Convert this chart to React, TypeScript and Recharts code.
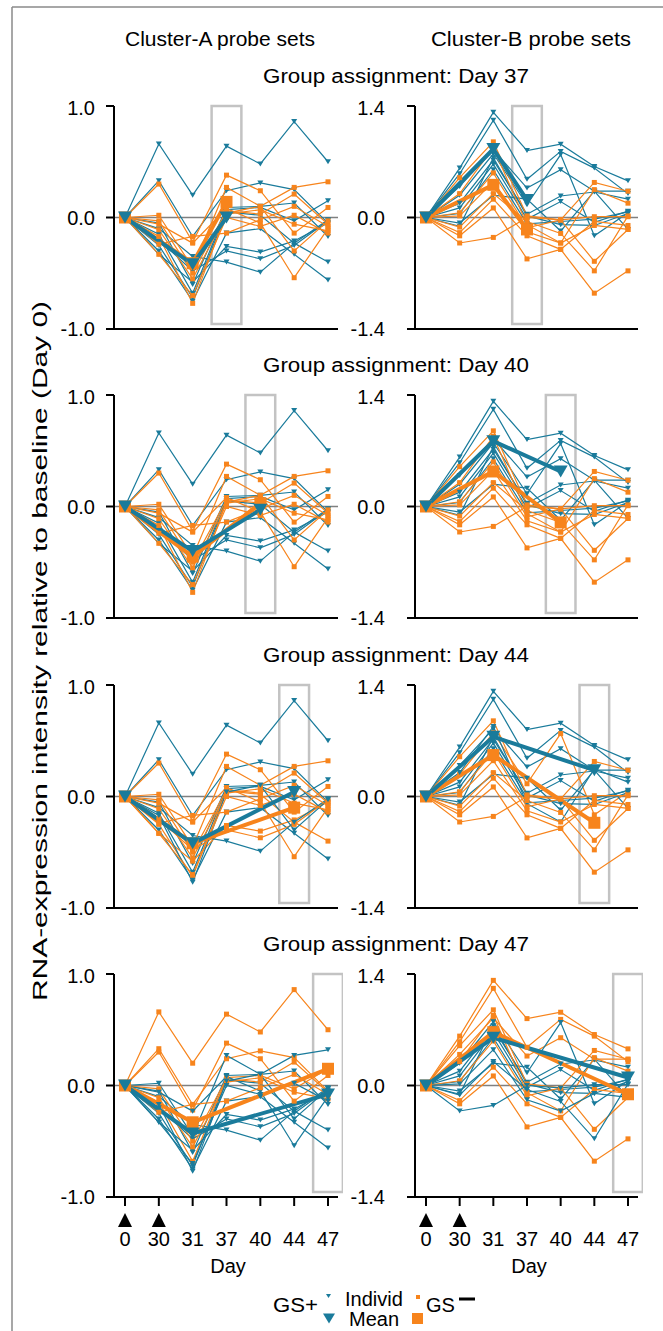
import { LineChart, Line, XAxis, YAxis, ReferenceLine, ReferenceArea } from 'recharts';

const DAYS = ['0', '30', '31', '37', '40', '44', '47'];
const ASSIGN_DAYS = ['37', '40', '44', '47'];
const ARROW_DAYS = ['0', '30'];

// individual probe sets, one row per probe set, values at DAYS
const CLUSTER_A = [
  [0, 0.66, 0.2, 0.64, 0.48, 0.86, 0.5],
  [0, 0.33, -0.17, 0.24, 0.31, 0.25, -0.05],
  [0, -0.05, -0.6, 0.09, 0.1, 0.13, -0.17],
  [0, -0.15, -0.68, 0.07, 0.09, -0.03, 0.15],
  [0, -0.25, -0.72, 0.05, 0.02, -0.23, -0.4],
  [0, -0.3, -0.75, -0.14, -0.1, -0.33, -0.56],
  [0, -0.33, -0.58, -0.26, -0.31, -0.21, -0.05],
  [0, -0.2, -0.48, -0.3, -0.37, -0.25, -0.03],
  [0, -0.1, -0.35, -0.4, -0.49, -0.23, -0.02],
  [0, 0.3, -0.22, 0.38, 0.24, -0.14, 0.09],
  [0, 0.02, -0.45, 0.27, 0.1, 0.27, 0.32],
  [0, -0.03, -0.5, 0.06, 0.03, 0.21, -0.06],
  [0, -0.06, -0.23, 0.08, -0.05, -0.54, -0.1],
  [0, -0.11, -0.55, 0.03, 0.07, -0.06, -0.12],
  [0, -0.17, -0.77, 0.04, 0.1, -0.3, -0.03],
  [0, -0.24, -0.17, -0.14, -0.02, 0.1, -0.08],
  [0, -0.33, -0.7, 0.0, -0.08, 0.02, -0.14],
];

const CLUSTER_B = [
  [0, 0.62, 1.32, 0.84, 0.92, 0.64, 0.46],
  [0, 0.55, 1.22, 0.48, 0.83, 0.62, 0.3],
  [0, 0.39, 0.85, 0.37, 0.6, 0.33, 0.33],
  [0, 0.28, 0.8, 0.16, 0.79, -0.23, 0.06],
  [0, 0.18, 0.72, 0.04, 0.27, 0.32, 0.23],
  [0, 0.12, 0.67, -0.02, 0.2, -0.06, 0.08],
  [0, -0.07, 0.28, 0.23, -0.17, 0.33, -0.15],
  [0, -0.11, 0.75, 0.02, -0.09, -0.1, 0.05],
  [0, 0.05, 0.6, -0.08, -0.05, -0.02, 0.07],
  [0, 0.5, 0.95, 0.02, -0.03, 0.44, 0.33],
  [0, 0.3, 0.88, -0.09, -0.32, 0.35, 0.18],
  [0, 0.06, 0.56, -0.13, -0.03, -0.55, -0.15],
  [0, -0.19, 0.23, -0.23, -0.4, -0.95, -0.67],
  [0, -0.23, 0.12, -0.52, -0.4, -0.05, -0.1],
  [0, -0.32, -0.25, 0.0, -0.03, 0.01, 0.01],
  [0, -0.12, 0.3, -0.05, -0.2, -0.67, 0.02],
  [0, 0.02, 0.45, -0.18, -0.32, -0.1, -0.15],
];

// GS+ / GS- membership of each probe set, one string per assignment day
const GROUPS_A = [
  '+++++++++--------',
  '+++++++++--------',
  '++++-+--+-----+--',
  '--+-+++++-+-+-+-+',
];
const GROUPS_B = [
  '+++++++++--------',
  '+++++++++--------',
  '+++-+++++-+------',
  '---++++++-----+++',
];

// group means at day 0, day 31 and the assignment day
const MEAN_A_POS = [[0, -0.42, 0.0], [0, -0.4, -0.03], [0, -0.42, 0.04], [0, -0.43, -0.08]];
const MEAN_A_NEG = [[0, -0.41, 0.14], [0, -0.45, 0.03], [0, -0.42, -0.1], [0, -0.33, 0.15]];
const MEAN_B_POS = [[0, 0.86, 0.22], [0, 0.82, 0.44], [0, 0.75, 0.33], [0, 0.6, 0.1]];
const MEAN_B_NEG = [[0, 0.41, -0.15], [0, 0.44, -0.2], [0, 0.52, -0.33], [0, 0.67, -0.11]];

const FONT = '"Liberation Sans", Arial, Helvetica, sans-serif';
const BLUE = '#1a7b9b';
const ORANGE = '#f7841c';
const ROW_TOPS = [106, 395, 685, 974];
const PLOT_H = 223;

const tri = (cx: number, cy: number, w: number, h: number) =>
  `M${cx - w / 2},${cy - h / 2}L${cx + w / 2},${cy - h / 2}L${cx},${cy + h / 2}Z`;

const makeTri = (w: number, h: number) => (p: any) => {
  if (p.cx == null || p.cy == null || p.value == null) return <g key={'t' + p.index} />;
  return <path key={'t' + p.index} d={tri(p.cx, p.cy, w, h)} fill={BLUE} />;
};
const makeSq = (s: number) => (p: any) => {
  if (p.cx == null || p.cy == null || p.value == null) return <g key={'s' + p.index} />;
  return <rect key={'s' + p.index} x={p.cx - s / 2} y={p.cy - s / 2} width={s} height={s} fill={ORANGE} />;
};

const smallTri = makeTri(6, 5);
const bigTri = makeTri(14, 12);
const smallSq = makeSq(5);
const bigSq = makeSq(12);

const renderDayTick = (p: any) => {
  const label = DAYS[p.payload.value];
  const x = p.x;
  const y = p.y;
  return (
    <g key={'dt' + p.payload.value}>
      {ARROW_DAYS.includes(label) && <path d={`M${x},${y + 5}L${x + 7},${y + 19}L${x - 7},${y + 19}Z`} fill="#000" />}
      <text x={x} y={y + 38} textAnchor="middle" fontSize={20} fontFamily={FONT} fill="#000">{label}</text>
    </g>
  );
};

function Panel({ cluster, row }: { cluster: 'A' | 'B'; row: number }) {
  const isA = cluster === 'A';
  const lines = isA ? CLUSTER_A : CLUSTER_B;
  const groups = (isA ? GROUPS_A : GROUPS_B)[row];
  const pos = (isA ? MEAN_A_POS : MEAN_B_POS)[row];
  const neg = (isA ? MEAN_A_NEG : MEAN_B_NEG)[row];
  const yMax = isA ? 1.0 : 1.4;
  const ai = DAYS.indexOf(ASSIGN_DAYS[row]);
  const last = row === 3;

  const data = DAYS.map((d, i) => {
    const r: Record<string, any> = { x: i, day: d };
    lines.forEach((l, k) => { r['l' + k] = l[i]; });
    const mi = i === 0 ? 0 : i === 2 ? 1 : i === ai ? 2 : -1;
    r.pos = mi >= 0 ? pos[mi] : null;
    r.neg = mi >= 0 ? neg[mi] : null;
    return r;
  });

  const yw = isA ? 60 : 70;
  const left = isA ? 114 - yw : 415 - yw;
  const plotW = isA ? 224 : 223;
  const xh = last ? 70 : 15;

  return (
    <div style={{ position: 'absolute', left, top: ROW_TOPS[row] - 10 }}>
      <LineChart width={yw + plotW + 5} height={10 + PLOT_H + xh} data={data}
        margin={{ top: 10, right: 5, bottom: 0, left: 0 }}>
        <XAxis type="number" dataKey="x" domain={[0, 6]} ticks={[0, 1, 2, 3, 4, 5, 6]}
          padding={{ left: 11, right: 10 }} height={xh} tickSize={9}
          axisLine={{ stroke: '#000', strokeWidth: 2 }}
          tickLine={{ stroke: '#000', strokeWidth: 2 }}
          tick={last ? renderDayTick : false}
          interval={0} />
        <YAxis type="number" domain={[-yMax, yMax]} ticks={[-yMax, 0, yMax]} width={yw}
          tickSize={8} tickMargin={isA ? 11 : 22}
          axisLine={{ stroke: '#000', strokeWidth: 2 }}
          tickLine={{ stroke: '#000', strokeWidth: 2 }}
          tickFormatter={(v: number) => v.toFixed(1)}
          tick={{ fontSize: 20, fill: '#000', fontFamily: FONT }} />
        <ReferenceArea x1={ai - 0.44} x2={ai + 0.44} y1={-yMax * 0.955} y2={yMax}
          fill="none" stroke="#c3c3c3" strokeWidth={2.5} ifOverflow="visible" />
        <ReferenceLine y={0} stroke="#808080" strokeWidth={1.5} />
        {lines.map((_, k) => {
          const plus = groups[k] === '+';
          return (
            <Line key={k} type="linear" dataKey={'l' + k} stroke={plus ? BLUE : ORANGE}
              strokeWidth={1.2} dot={plus ? smallTri : smallSq} activeDot={false}
              isAnimationActive={false} />
          );
        })}
        <Line type="linear" dataKey="neg" stroke={ORANGE} strokeWidth={4} connectNulls
          dot={bigSq} activeDot={false} isAnimationActive={false} />
        <Line type="linear" dataKey="pos" stroke={BLUE} strokeWidth={4} connectNulls
          dot={bigTri} activeDot={false} isAnimationActive={false} />
      </LineChart>
    </div>
  );
}

export default function App() {
  const rows = [0, 1, 2, 3];
  return (
    <div style={{ position: 'absolute', left: 0, top: 0, width: 663, height: 1331, background: '#fff', fontFamily: FONT }}>
      <svg width={663} height={1331} style={{ position: 'absolute', left: 0, top: 0 }}>
        <line x1={12} y1={7} x2={663} y2={7} stroke="#8a8a8a" strokeWidth={1.5} />
        <line x1={12} y1={7} x2={12} y2={1331} stroke="#8a8a8a" strokeWidth={1.5} />
        <text x={220} y={46} textAnchor="middle" fontSize={20} textLength={190} lengthAdjust="spacingAndGlyphs">Cluster-A probe sets</text>
        <text x={531} y={46} textAnchor="middle" fontSize={20} textLength={200} lengthAdjust="spacingAndGlyphs">Cluster-B probe sets</text>
        {rows.map(r => (
          <text key={r} x={396} y={83 + ROW_TOPS[r] - 106} textAnchor="middle" fontSize={20}
            textLength={266} lengthAdjust="spacingAndGlyphs">{`Group assignment: Day ${ASSIGN_DAYS[r]}`}</text>
        ))}
        <text x={0} y={0} transform="translate(47,651) rotate(-90)" textAnchor="middle" fontSize={20}
          textLength={700} lengthAdjust="spacingAndGlyphs">
          RNA-expression intensity relative to baseline (Day 0)
        </text>
        <text x={228} y={1273} textAnchor="middle" fontSize={20}>Day</text>
        <text x={529} y={1273} textAnchor="middle" fontSize={20}>Day</text>
        {/* legend */}
        <text x={273} y={1312} fontSize={20} textLength={45} lengthAdjust="spacingAndGlyphs">GS+</text>
        <path d={tri(328.5, 1296, 5, 4)} fill={BLUE} />
        <path d={tri(329, 1318.5, 12, 10)} fill={BLUE} />
        <text x={345} y={1306} fontSize={20}>Individ</text>
        <text x={349} y={1326} fontSize={20}>Mean</text>
        <rect x={416} y={1295} width={4} height={4} fill={ORANGE} />
        <rect x={412} y={1313} width={11} height={11} fill={ORANGE} />
        <text x={426} y={1312} fontSize={20}>GS</text>
        <rect x={459} y={1297.5} width={16} height={3} fill="#000" />
      </svg>
      {rows.map(r => (
        <div key={r}>
          <Panel cluster="A" row={r} />
          <Panel cluster="B" row={r} />
        </div>
      ))}
    </div>
  );
}
